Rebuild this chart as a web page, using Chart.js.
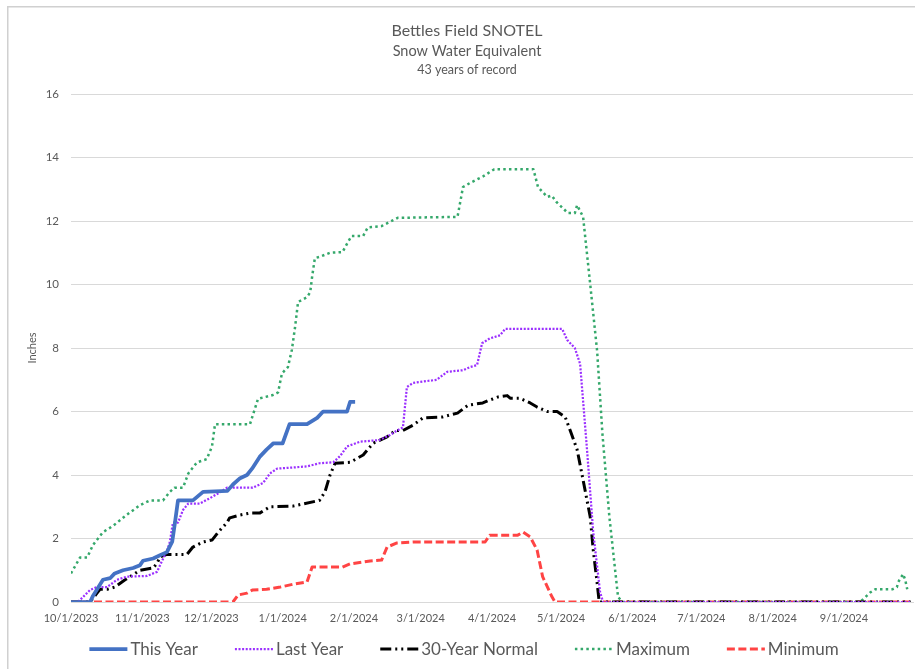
<!DOCTYPE html>
<html>
<head>
<meta charset="utf-8">
<script src="https://cdn.jsdelivr.net/npm/chart.js@4.4.0/dist/chart.umd.min.js"></script>
<style>
html,body{margin:0;padding:0;background:#fff;}
#wrap{position:relative;width:915px;height:669px;overflow:hidden;}
canvas{display:block;}
</style>
</head>
<body>
<div id="wrap"><canvas id="c" width="915" height="669"></canvas></div>
<script>
// ---- Data (x = days since 10/1/2023, y = inches) ----
const titleLines = ['Bettles Field SNOTEL', 'Snow Water Equivalent', '43 years of record'];
const yAxisTitle = 'Inches';
const tickDays = [0, 31, 61, 92, 123, 152, 183, 213, 244, 274, 305, 336];
const tickLabels = ['10/1/2023','11/1/2023','12/1/2023','1/1/2024','2/1/2024','3/1/2024','4/1/2024','5/1/2024','6/1/2024','7/1/2024','8/1/2024','9/1/2024'];
const seriesNames = ['This Year', 'Last Year', '30-Year Normal', 'Maximum', 'Minimum'];

const thisYear = [[0,0],[8.3,0],[9.6,0.2],[13.9,0.7],[17,0.75],[19,0.9],[22.6,1.0],[27,1.07],[30,1.16],[31.3,1.3],[35.7,1.37],[38.7,1.47],[41.7,1.57],[44,1.9],[45,2.4],[46.5,3.2],[53,3.2],[57.4,3.47],[68,3.5],[70.4,3.7],[73.5,3.9],[76.5,4.0],[78.7,4.2],[82,4.57],[85,4.8],[88,5.0],[92,5.0],[95,5.6],[102.6,5.6],[107,5.8],[109.6,6.0],[120,6.0],[121.3,6.3],[123.5,6.3]];

const lastYear = [[0,0],[3,0],[3.9,0.06],[8.3,0.38],[11.3,0.47],[15.7,0.47],[20,0.7],[24.3,0.8],[33,0.82],[37.4,0.95],[39.6,1.3],[41.7,1.6],[43,1.9],[44.3,2.5],[46.5,2.5],[48.7,2.9],[51,3.1],[56,3.1],[60.4,3.27],[63.5,3.4],[67.8,3.6],[79,3.6],[83.5,3.75],[86.5,4.05],[89.6,4.2],[102.6,4.27],[108,4.37],[114,4.4],[117,4.6],[120,4.9],[125.7,5.05],[134,5.1],[138.7,5.26],[141.7,5.4],[144.3,5.5],[146,6.77],[148.7,6.9],[159,7.0],[163.5,7.25],[170.4,7.3],[173.5,7.4],[176.5,7.46],[178.7,8.15],[182,8.3],[186.5,8.4],[188.7,8.6],[213.5,8.6],[215.7,8.25],[219,8.0],[221.3,7.5],[224.3,4.8],[227,2.2],[230,0.3],[231.3,0],[365,0]];

const normal30 = [[0,0],[8.3,0],[11.3,0.28],[12.6,0.4],[15.7,0.4],[19,0.47],[23.5,0.7],[25.7,0.8],[30,1.0],[35.7,1.07],[37.4,1.22],[38.7,1.42],[41.7,1.5],[50.4,1.5],[53,1.73],[57.4,1.89],[61.3,1.95],[64,2.2],[67.8,2.5],[69,2.65],[73.5,2.74],[77.8,2.8],[82,2.8],[86.5,3.0],[96.5,3.02],[108,3.2],[110.4,3.47],[112.6,4.0],[114.8,4.37],[121.3,4.4],[127,4.63],[131.3,5.0],[137.4,5.2],[141,5.4],[144.3,5.4],[148.7,5.57],[153,5.8],[161.7,5.83],[168,5.95],[172.6,6.2],[179,6.27],[182,6.36],[185.7,6.46],[189.6,6.5],[190.9,6.42],[195,6.42],[199.6,6.27],[202.6,6.14],[207,6.0],[211.3,6.0],[214.8,5.83],[217,5.4],[220,4.8],[222.6,3.84],[225.7,2.68],[227,1.64],[228.7,0.6],[229.6,0],[365,0]];

const maximum = [[0,0.9],[3.9,1.4],[7,1.4],[9.6,1.8],[13.9,2.2],[18.3,2.4],[24.3,2.75],[30,3.05],[34.3,3.2],[40,3.2],[43,3.47],[45,3.6],[48.7,3.6],[51,4.05],[54.8,4.4],[59,4.5],[61.3,4.9],[62.6,5.6],[77.8,5.6],[81.3,6.4],[87.8,6.52],[90,6.6],[91.7,7.2],[94.3,7.4],[96,7.94],[97.4,8.66],[98.7,9.45],[102.6,9.6],[104,9.76],[104.8,10.24],[106,10.83],[108,10.87],[112.6,11.0],[118,11.02],[120.4,11.34],[122,11.53],[127,11.53],[129,11.8],[135,11.84],[142,12.1],[168,12.13],[170.4,13.07],[173.5,13.2],[179,13.4],[184,13.63],[201,13.63],[203,13.07],[207,12.76],[209,12.8],[211,12.6],[216,12.25],[219,12.25],[220,12.5],[222.6,12.13],[225.7,10.0],[228.7,7.9],[231,5.3],[234,2.7],[237.8,0.15],[240,0],[343,0],[345,0.13],[347.4,0.3],[349.6,0.4],[357,0.4],[359,0.47],[359.6,0.63],[361.7,0.88],[362.6,0.7],[363.5,0.4]];

const minimum = [[0,0],[70.4,0],[72.6,0.22],[76.5,0.28],[79,0.38],[85,0.4],[91,0.47],[96.5,0.56],[102.6,0.63],[104.8,1.1],[118,1.1],[121.3,1.2],[130,1.29],[135,1.32],[137.4,1.73],[141.7,1.86],[148.7,1.89],[180,1.89],[182,2.1],[194,2.1],[196.5,2.2],[199.6,2.05],[202.6,1.64],[205,0.8],[209,0.17],[210.4,0],[365,0]];

const seriesData = [thisYear, lastYear, normal30, maximum, minimum];
const seriesColors = ['#4472C4', '#9B30FF', '#000000', '#35A86B', '#FF4444'];
const seriesWidths = [3.75, 2.25, 3, 2.5, 3];
const seriesDashes = [[], [2, 1.6], [11, 4, 2, 4, 2, 4], [2.5, 3.2], [8, 3.5]];

const FONT = 'Lato, "Open Sans", sans-serif';
const GRAY = '#595959';

const datasets = seriesNames.map((name, i) => ({
  label: name,
  data: seriesData[i].map(p => ({x: p[0], y: p[1]})),
  borderColor: seriesColors[i],
  backgroundColor: seriesColors[i],
  borderWidth: seriesWidths[i],
  borderDash: seriesDashes[i],
  borderCapStyle: 'butt',
  borderJoinStyle: 'round',
  pointRadius: 0,
  pointHoverRadius: 0,
  tension: 0,
  fill: false
}));

const decorPlugin = {
  id: 'decor',
  beforeDraw(chart) {
    const ctx = chart.ctx;
    ctx.save();
    ctx.fillStyle = '#ffffff';
    ctx.fillRect(0, 0, chart.width, chart.height);
    ctx.strokeStyle = '#d0d0d0';
    ctx.lineWidth = 1.5;
    ctx.beginPath();
    ctx.moveTo(7.75, chart.height);
    ctx.lineTo(7.75, 6.75);
    ctx.lineTo(chart.width, 6.75);
    ctx.stroke();
    ctx.restore();
  },
  afterDraw(chart) {
    const ctx = chart.ctx;
    ctx.save();
    // titles
    ctx.fillStyle = GRAY;
    ctx.textAlign = 'center';
    ctx.textBaseline = 'middle';
    const tSizes = [16, 14.5, 12.5];
    const tY = [31, 51, 70];
    titleLines.forEach((t, i) => {
      ctx.font = tSizes[i] + 'px ' + FONT;
      ctx.fillText(t, 467, tY[i]);
    });
    // legend
    ctx.font = '17px ' + FONT;
    const sampleW = 38, textGap = 3, itemGap = 37;
    const widths = seriesNames.map(n => ctx.measureText(n).width);
    let total = 0;
    widths.forEach((w, i) => { total += sampleW + textGap + w + (i < widths.length - 1 ? itemGap : 0); });
    let x = 464 - total / 2;
    const ly = 649;
    seriesNames.forEach((n, i) => {
      ctx.save();
      ctx.strokeStyle = seriesColors[i];
      ctx.lineWidth = seriesWidths[i];
      ctx.setLineDash(seriesDashes[i]);
      ctx.lineCap = 'butt';
      ctx.beginPath();
      ctx.moveTo(x, ly);
      ctx.lineTo(x + sampleW, ly);
      ctx.stroke();
      ctx.restore();
      ctx.fillStyle = GRAY;
      ctx.textAlign = 'left';
      ctx.textBaseline = 'middle';
      ctx.fillText(n, x + sampleW + textGap, ly + 1);
      x += sampleW + textGap + widths[i] + itemGap;
    });
    ctx.restore();
  }
};

new Chart(document.getElementById('c'), {
  type: 'line',
  data: { datasets },
  options: {
    responsive: false,
    animation: false,
    devicePixelRatio: 1,
    layout: { padding: { top: 94, bottom: 47, left: 0, right: 2 } },
    plugins: {
      legend: { display: false },
      title: { display: false },
      tooltip: { enabled: false }
    },
    scales: {
      x: {
        type: 'linear',
        min: 0,
        max: 366,
        afterBuildTicks: s => { s.ticks = tickDays.map(v => ({ value: v })); },
        afterFit: s => { s.height = 20; },
        ticks: {
          autoSkip: false,
          maxRotation: 0,
          padding: 10,
          color: GRAY,
          font: { family: FONT, size: 11 },
          callback: (v, i) => tickLabels[i]
        },
        grid: { display: false, drawTicks: false },
        border: { display: true, color: '#d9d9d9', width: 1 }
      },
      y: {
        min: 0,
        max: 16,
        afterFit: s => { s.width = 71; },
        ticks: {
          stepSize: 2,
          padding: 12,
          color: GRAY,
          font: { family: FONT, size: 11.5 }
        },
        grid: { color: '#d9d9d9', lineWidth: 1, drawTicks: false },
        border: { display: false },
        title: {
          display: true,
          text: yAxisTitle,
          color: GRAY,
          font: { family: FONT, size: 11 },
          padding: { top: 26, bottom: 0 }
        }
      }
    }
  },
  plugins: [decorPlugin]
});
</script>
</body>
</html>
